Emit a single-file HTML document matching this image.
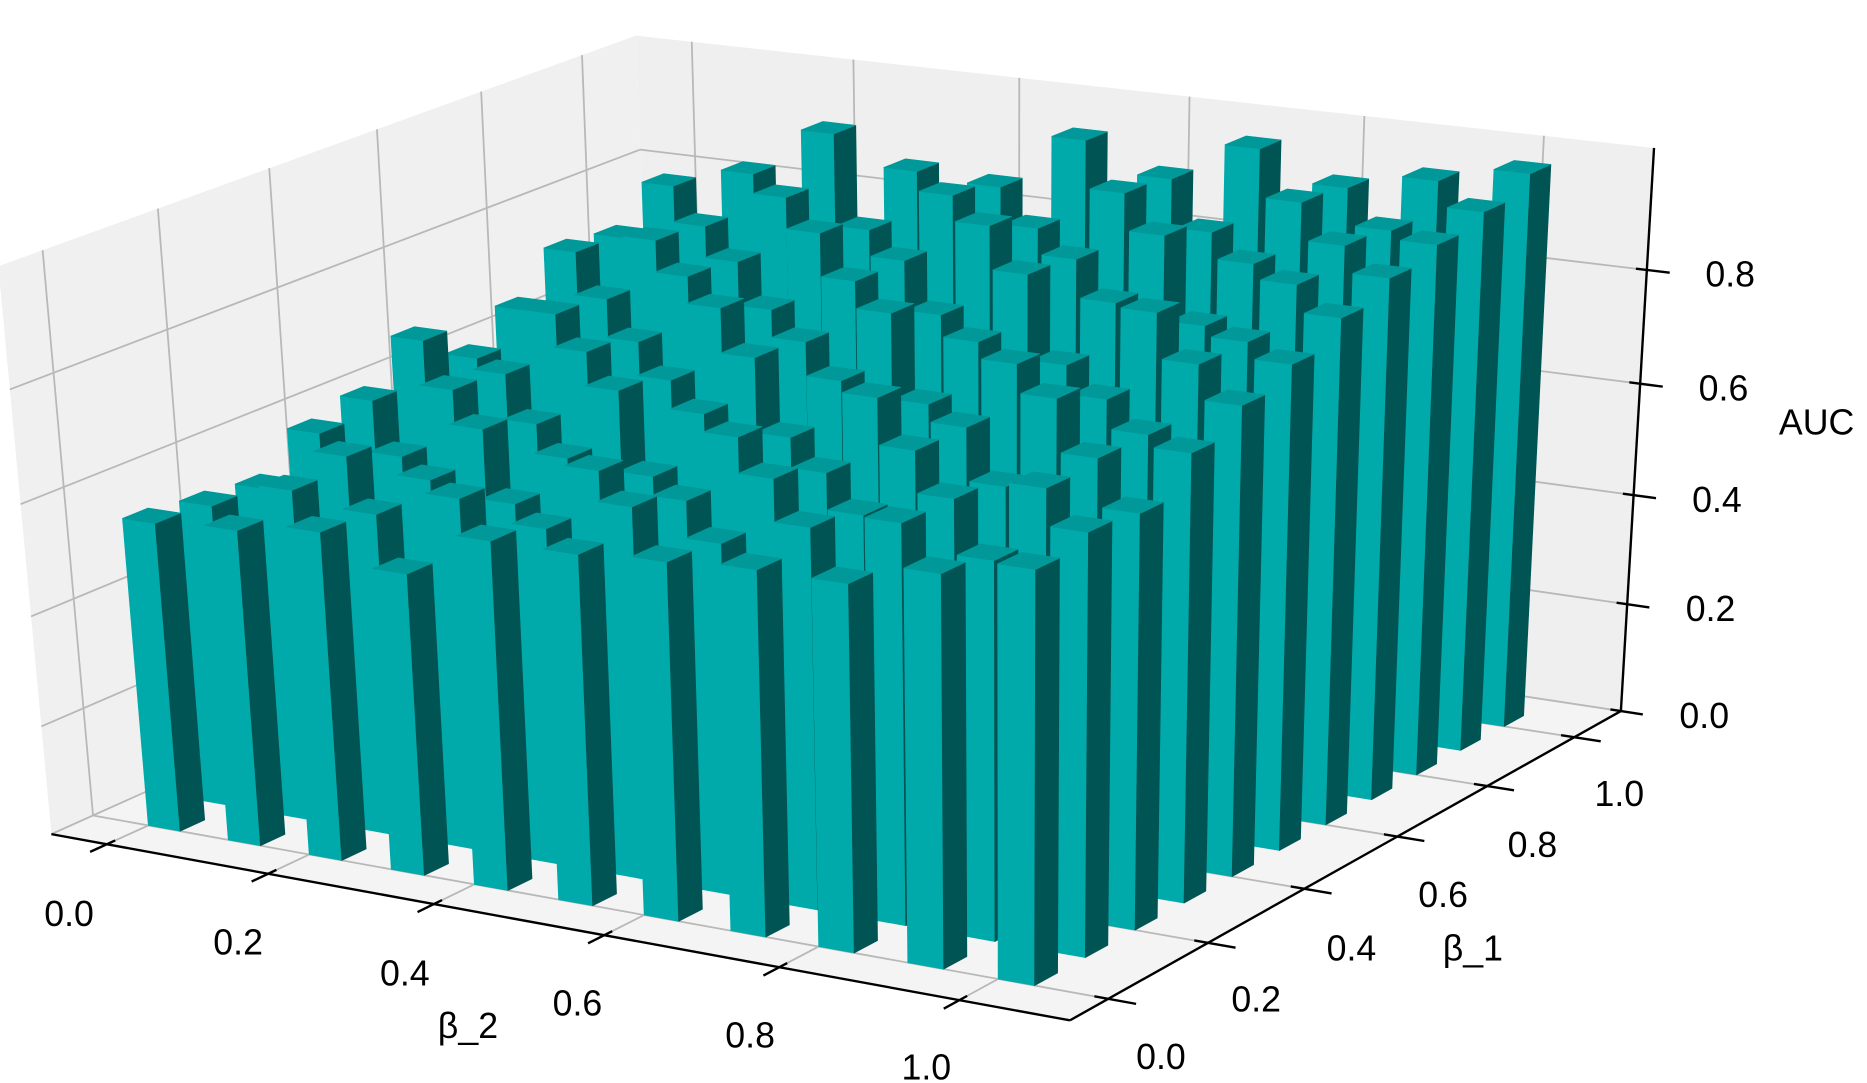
<!DOCTYPE html>
<html><head><meta charset="utf-8"><style>
html,body{margin:0;padding:0;background:#fff;}
svg{display:block;}
text{font-family:"Liberation Sans","DejaVu Sans",sans-serif;fill:#000;}
</style></head><body>
<svg id="chart" width="1867" height="1083" viewBox="0 0 1568 910" preserveAspectRatio="none" xmlns="http://www.w3.org/2000/svg">
<rect x="0" y="0" width="1568" height="910" fill="#ffffff"/>
<g id="panes"></g>
<g id="grid"></g>
<g id="axes"></g>
<g id="bars"></g>
<g id="labels"></g>
</svg>
<script>
const beta2Ticks = [0.0, 0.2, 0.4, 0.6, 0.8, 1.0];
const beta1Ticks = [0.0, 0.2, 0.4, 0.6, 0.8, 1.0];
const zTicks = [0.0, 0.2, 0.4, 0.6, 0.8];
const beta2Labels = ["0.0","0.2","0.4","0.6","0.8","1.0"];
const beta1Labels = ["0.0","0.2","0.4","0.6","0.8","1.0"];
const zLabels = ["0.0","0.2","0.4","0.6","0.8"];
const beta2Values = [0,0.1,0.2,0.3,0.4,0.5,0.6,0.7,0.8,0.9,1.0];
const beta1Values = [0,0.1,0.2,0.3,0.4,0.5,0.6,0.7,0.8,0.9,1.0];
// auc[beta1 index][beta2 index]
const aucRow0  = [0.56,0.57,0.59,0.54,0.62,0.62,0.63,0.64,0.64,0.68,0.71];
const aucRow1  = [0.55,0.60,0.58,0.63,0.60,0.66,0.62,0.67,0.70,0.66,0.73];
const aucRow2  = [0.54,0.62,0.60,0.58,0.66,0.63,0.69,0.65,0.70,0.74,0.72];
const aucRow3  = [0.60,0.58,0.65,0.62,0.61,0.70,0.66,0.72,0.68,0.75,0.78];
const aucRow4  = [0.62,0.66,0.62,0.70,0.68,0.66,0.75,0.72,0.79,0.75,0.82];
const aucRow5  = [0.69,0.65,0.71,0.68,0.74,0.72,0.70,0.79,0.75,0.83,0.85];
const aucRow6  = [0.62,0.72,0.69,0.77,0.73,0.80,0.77,0.75,0.86,0.83,0.89];
const aucRow7  = [0.67,0.71,0.77,0.73,0.80,0.76,0.85,0.82,0.80,0.89,0.92];
const aucRow8  = [0.74,0.78,0.76,0.83,0.80,0.88,0.84,0.90,0.87,0.92,0.94];
const aucRow9  = [0.73,0.77,0.84,0.80,0.88,0.84,0.92,0.87,0.94,0.91,0.96];
const aucRow10 = [0.79,0.83,0.92,0.87,0.86,0.96,0.91,0.98,0.93,0.96,0.99];
const aucRows = [aucRow0,aucRow1,aucRow2,aucRow3,aucRow4,aucRow5,aucRow6,aucRow7,aucRow8,aucRow9,aucRow10];

const NS = "http://www.w3.org/2000/svg";
const AMIN=-0.07, AMAX=1.12, BMIN=-0.075, BMAX=1.11, ZT=1.01, BWA=0.04, BWB=0.045;

const corr = [
 [AMIN,0,ZT,38,204],[AMIN,1.0,ZT,484,47],[AMIN,BMAX,ZT,533,30],
 [0,BMAX,ZT,583,36],[1.0,BMAX,ZT,1300,117],[AMAX,BMAX,ZT,1388,127],
 [AMAX,BMAX,0,1360,592],[AMAX,BMAX,0.8,1383,225],
 [0,BMIN,0,92,713],[1,BMIN,0,803,845],[AMAX,0,0,935,839],[AMAX,1,0,1325,620],
 [AMAX,BMIN,0,893,855]
];
function solveCam(){
  const A=[],B=[];
  corr.forEach(c=>{const [X,Y,Z]=c; const u=c[3]/1000, v=c[4]/1000;
    A.push([X,Y,Z,1,0,0,0,0,-u*X,-u*Y,-u*Z]); B.push(u);
    A.push([0,0,0,0,X,Y,Z,1,-v*X,-v*Y,-v*Z]); B.push(v);});
  const n=11, M=[];
  for(let i=0;i<n;i++){M.push(new Array(n+1).fill(0));
    for(let j=0;j<n;j++){let s=0;for(let k=0;k<A.length;k++)s+=A[k][i]*A[k][j];M[i][j]=s;}
    let s=0;for(let k=0;k<A.length;k++)s+=A[k][i]*B[k];M[i][n]=s;}
  for(let i=0;i<n;i++){let p=i;for(let r=i+1;r<n;r++)if(Math.abs(M[r][i])>Math.abs(M[p][i]))p=r;
    [M[i],M[p]]=[M[p],M[i]];
    for(let r=0;r<n;r++){if(r===i)continue;const f=M[r][i]/M[i][i];for(let c=i;c<=n;c++)M[r][c]-=f*M[i][c];}}
  return M.map((row,i)=>row[n]/row[i]);
}
const P = solveCam();
function proj(a,b,z){
  const w=P[8]*a+P[9]*b+P[10]*z+1;
  return [1000*(P[0]*a+P[1]*b+P[2]*z+P[3])/w, 1000*(P[4]*a+P[5]*b+P[6]*z+P[7])/w];
}
function pts(list){return list.map(p=>proj(p[0],p[1],p[2]).map(v=>v.toFixed(1)).join(",")).join(" ");}
function poly(parent,list,fill,stroke,name){
  const e=document.createElementNS(NS,"polygon");
  e.setAttribute("points",pts(list));e.setAttribute("fill",fill);
  if(stroke){e.setAttribute("stroke",stroke);e.setAttribute("stroke-width","0.6");e.setAttribute("stroke-linejoin","round");}
  
  
  parent.appendChild(e);return e;
}
function line(parent,p1,p2,color,w,name){
  const a=proj(...p1),b=proj(...p2);
  const e=document.createElementNS(NS,"line");
  e.setAttribute("x1",a[0]);e.setAttribute("y1",a[1]);e.setAttribute("x2",b[0]);e.setAttribute("y2",b[1]);
  e.setAttribute("stroke",color);e.setAttribute("stroke-width",w);
  
  
  parent.appendChild(e);
}
function text(parent,x,y,s,size,name,anchor){
  const e=document.createElementNS(NS,"text");
  e.setAttribute("x",x);e.setAttribute("y",y);e.setAttribute("font-size",size);
  e.setAttribute("text-anchor",anchor||"middle");e.setAttribute("dominant-baseline","central");
  e.textContent=s;
  
  
  parent.appendChild(e);
}
const panes=document.getElementById("panes"), grid=document.getElementById("grid"),
      axes=document.getElementById("axes"), bars=document.getElementById("bars"), labels=document.getElementById("labels");
poly(panes,[[AMIN,BMIN,0],[AMAX,BMIN,0],[AMAX,BMAX,0],[AMIN,BMAX,0]],"#f4f4f4",null,"floor-pane");
poly(panes,[[AMIN,BMIN,0],[AMIN,BMAX,0],[AMIN,BMAX,ZT],[AMIN,BMIN,ZT]],"#f0f0f0",null,"left-wall-pane");
poly(panes,[[AMIN,BMAX,0],[AMAX,BMAX,0],[AMAX,BMAX,ZT],[AMIN,BMAX,ZT]],"#efefef",null,"back-wall-pane");
const GC="#b8b8b8";
beta2Ticks.forEach(a=>{line(grid,[a,BMIN,0],[a,BMAX,0],GC,1.5,"floor-gridline-beta2");
  line(grid,[a,BMAX,0],[a,BMAX,ZT],GC,1.5,"back-gridline-beta2");});
beta1Ticks.forEach(b=>{line(grid,[AMIN,b,0],[AMAX,b,0],GC,1.5,"floor-gridline-beta1");
  line(grid,[AMIN,b,0],[AMIN,b,ZT],GC,1.5,"left-gridline-beta1");});
zTicks.forEach(z=>{line(grid,[AMIN,BMIN,z],[AMIN,BMAX,z],GC,1.5,"left-gridline-z");
  line(grid,[AMIN,BMAX,z],[AMAX,BMAX,z],GC,1.5,"back-gridline-z");});
line(axes,[AMIN,BMIN,0],[AMAX,BMIN,0],"#000",2,"beta2-axis-line");
line(axes,[AMAX,BMIN,0],[AMAX,BMAX,0],"#000",2,"beta1-axis-line");
line(axes,[AMAX,BMAX,0],[AMAX,BMAX,ZT],"#000",2,"z-axis-line");
beta2Ticks.forEach(a=>line(axes,[a,BMIN+0.015,0],[a,BMIN-0.03,0],"#000",2,"beta2-tick"));
beta1Ticks.forEach(b=>line(axes,[AMAX-0.015,b,0],[AMAX+0.03,b,0],"#000",2,"beta1-tick"));
zTicks.forEach(z=>line(axes,[AMAX-0.012,BMAX,z],[AMAX+0.025,BMAX,z],"#000",2,"z-tick"));

const list=[];
beta1Values.forEach((b,bi)=>beta2Values.forEach((a,ai)=>{list.push({a,b,v:aucRows[bi][ai],key:proj(a+BWA/2,b+BWB/2,0)[1]});}));
list.sort((p,q)=>p.key-q.key);
list.forEach(o=>{
  const a0=o.a,a1=o.a+BWA,b0=o.b,b1=o.b+BWB,z=o.v;
  const g=document.createElementNS(NS,"g");
  
  
  bars.appendChild(g);
  poly(g,[[a0,b0,0],[a1,b0,0],[a1,b0,z],[a0,b0,z]],"#00aaaa","#00aaaa","bar-front-face");
  poly(g,[[a1,b0,0],[a1,b1,0],[a1,b1,z],[a1,b0,z]],"#005454","#005454","bar-side-face");
  poly(g,[[a0,b0,z],[a1,b0,z],[a1,b1,z],[a0,b1,z]],"#009898","#009898","bar-top-face");
});

const b2Pos=[[58,768],[200,792],[340,818],[485,843],[630,870],[778,897]];
beta2Labels.forEach((s,i)=>text(labels,b2Pos[i][0],b2Pos[i][1],s,30,"beta2-tick-label"));
const b1Pos=[[975,888],[1055,840],[1135,797],[1212,752],[1287,710],[1360,667]];
beta1Labels.forEach((s,i)=>text(labels,b1Pos[i][0],b1Pos[i][1],s,30,"beta1-tick-label"));
zTicks.forEach((z,i)=>{const p=proj(AMAX,BMAX,z);text(labels,p[0]+70,p[1]+4,zLabels[i],30,"z-tick-label");});
text(labels,393,862,"β_2",30,"beta2-axis-title");
text(labels,1237,797,"β_1",30,"beta1-axis-title");
text(labels,1494,355,"AUC",30,"z-axis-title","start");
</script>
</body></html>
